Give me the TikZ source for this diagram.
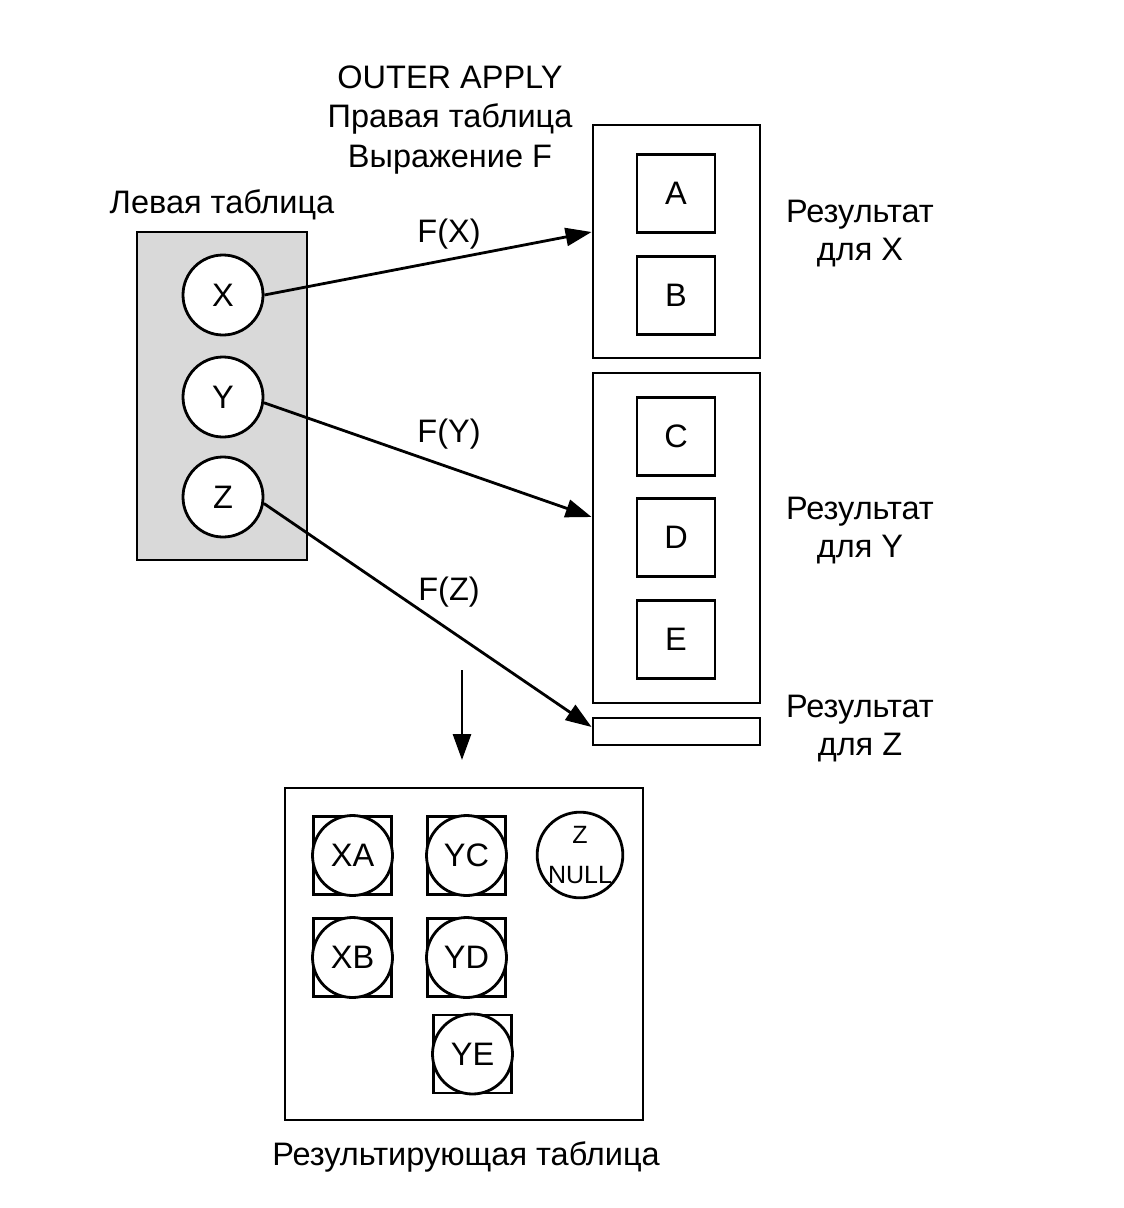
\documentclass[tikz,border=0pt]{standalone}
\usepackage{fontspec}
\setmainfont{Liberation Sans}
\usetikzlibrary{arrows.meta}
\begin{document}
\begin{tikzpicture}[x=1pt,y=-1pt,line width=2.8pt,
        font=\fontsize{32.5}{38}\selectfont,
        circ/.style={circle,draw,fill=white,inner sep=0pt,minimum size=80pt},
        cell/.style={rectangle,draw,fill=white,inner sep=0pt,minimum size=78pt},
        box/.style={rectangle,draw,inner sep=0pt,minimum width=167pt},
        arr/.style={-{Triangle[length=26pt,width=18pt]}},
        lbl/.style={align=center,inner sep=0pt}]
      \useasboundingbox (0,0) rectangle (1124,1208);
      % left table
      \node (left) at (222,396) [rectangle,draw,fill=black!15,minimum width=170pt,minimum height=328pt] {};
      \node (lefttitle) at (222,205) [lbl] {Левая таблица};
      \node (x) at (223,295) [circ] {X};
      \node (y) at (223,397) [circ] {Y};
      \node (z) at (223,497) [circ] {Z};
      % right table
      \node (title) at (450,120) [lbl,font=\fontsize{32.5}{39.5}\selectfont] {OUTER APPLY\\Правая таблица\\Выражение F};
      \node (box1) at (676.5,241.5) [box,minimum height=233pt] {};
      \node (box2) at (676.5,538) [box,minimum height=330pt] {};
      \node (box3) at (676.5,731.5) [box,minimum height=27pt] {};
      \node (a) at (676,193.5) [cell] {A};
      \node (b) at (676,295.5) [cell] {B};
      \node (c) at (676,436.5) [cell] {C};
      \node (d) at (676,537.5) [cell] {D};
      \node (e) at (676,639.5) [cell] {E};
      \node (resx) at (860,234) [lbl] {Результат\\для X};
      \node (resy) at (860,531) [lbl] {Результат\\для Y};
      \node (resz) at (860,729) [lbl] {Результат\\для Z};
      % F arrows
      \draw[arr] (x.east) -- ([yshift=9.5pt]box1.west);
      \draw[arr] (y.-8) -- ([yshift=21pt]box2.west);
      \draw[arr] (z.-9) -- ([yshift=4.5pt]box3.west);
      \node (fx) at (449,234) [lbl] {F(X)};
      \node (fy) at (449,434) [lbl] {F(Y)};
      \node (fz) at (449,592) [lbl] {F(Z)};
      % result table
      \coordinate (dtop) at (462,670);
      \coordinate (dbot) at (462,760);
      \draw[arr] (dtop) -- (dbot);
      \node (res) at (464,954) [rectangle,draw,inner sep=0pt,minimum width=358pt,minimum height=332pt] {};
      \node (restitle) at (466,1157) [lbl] {Результирующая таблица};
      \node (xasq) at (352.5,855.5) [cell] {};
      \node (xa) at (xasq) [circ] {XA};
      \node (ycsq) at (466.5,855.5) [cell] {};
      \node (yc) at (ycsq) [circ] {YC};
      \node (xbsq) at (352.5,957.5) [cell] {};
      \node (xb) at (xbsq) [circ] {XB};
      \node (ydsq) at (466.5,957.5) [cell] {};
      \node (yd) at (ydsq) [circ] {YD};
      \node (yesq) at (472.5,1054) [cell] {};
      \node (ye) at (yesq) [circ] {YE};
      \node (znull) at (580,855) [circ,align=center,font=\fontsize{25}{40}\selectfont] {Z\\NULL};
\end{tikzpicture}
\end{document}
